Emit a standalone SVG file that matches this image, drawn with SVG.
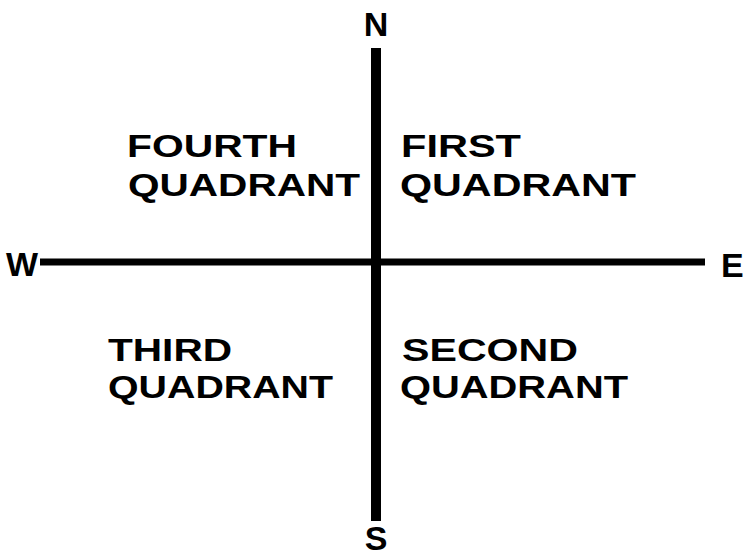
<svg xmlns="http://www.w3.org/2000/svg" width="749" height="556" viewBox="0 0 749 556">
<style>
.lbl{font-family:"Liberation Sans",Arial,sans-serif;font-weight:bold;font-size:32px;fill:#000}
.dir{font-family:"Liberation Sans",Arial,sans-serif;font-weight:bold;font-size:34px;fill:#000}
.axis{stroke:#000;fill:none}
</style>
<rect width="749" height="556" fill="#fff"/>
<g id="connectors">
<line class="axis" x1="376" y1="48" x2="376" y2="521" stroke-width="10"/>
<line class="axis" x1="40" y1="262" x2="705" y2="262" stroke-width="7"/>
</g>
<g id="north"><text class="dir" x="376" y="36" text-anchor="middle">N</text></g>
<g id="south"><text class="dir" x="376" y="550" text-anchor="middle">S</text></g>
<g id="west"><text class="dir" x="6" y="276" textLength="32" lengthAdjust="spacingAndGlyphs">W</text></g>
<g id="east"><text class="dir" x="721" y="277">E</text></g>
<g id="fourth">
<text class="lbl" x="127" y="157" textLength="170" lengthAdjust="spacingAndGlyphs">FOURTH</text>
<text class="lbl" x="128" y="196" textLength="232" lengthAdjust="spacingAndGlyphs">QUADRANT</text>
</g>
<g id="first">
<text class="lbl" x="401" y="157" textLength="120" lengthAdjust="spacingAndGlyphs">FIRST</text>
<text class="lbl" x="400" y="196" textLength="236" lengthAdjust="spacingAndGlyphs">QUADRANT</text>
</g>
<g id="third">
<text class="lbl" x="108" y="361" textLength="124" lengthAdjust="spacingAndGlyphs">THIRD</text>
<text class="lbl" x="108" y="398" textLength="225" lengthAdjust="spacingAndGlyphs">QUADRANT</text>
</g>
<g id="second">
<text class="lbl" x="402" y="361" textLength="176" lengthAdjust="spacingAndGlyphs">SECOND</text>
<text class="lbl" x="400" y="398" textLength="228" lengthAdjust="spacingAndGlyphs">QUADRANT</text>
</g>
</svg>
